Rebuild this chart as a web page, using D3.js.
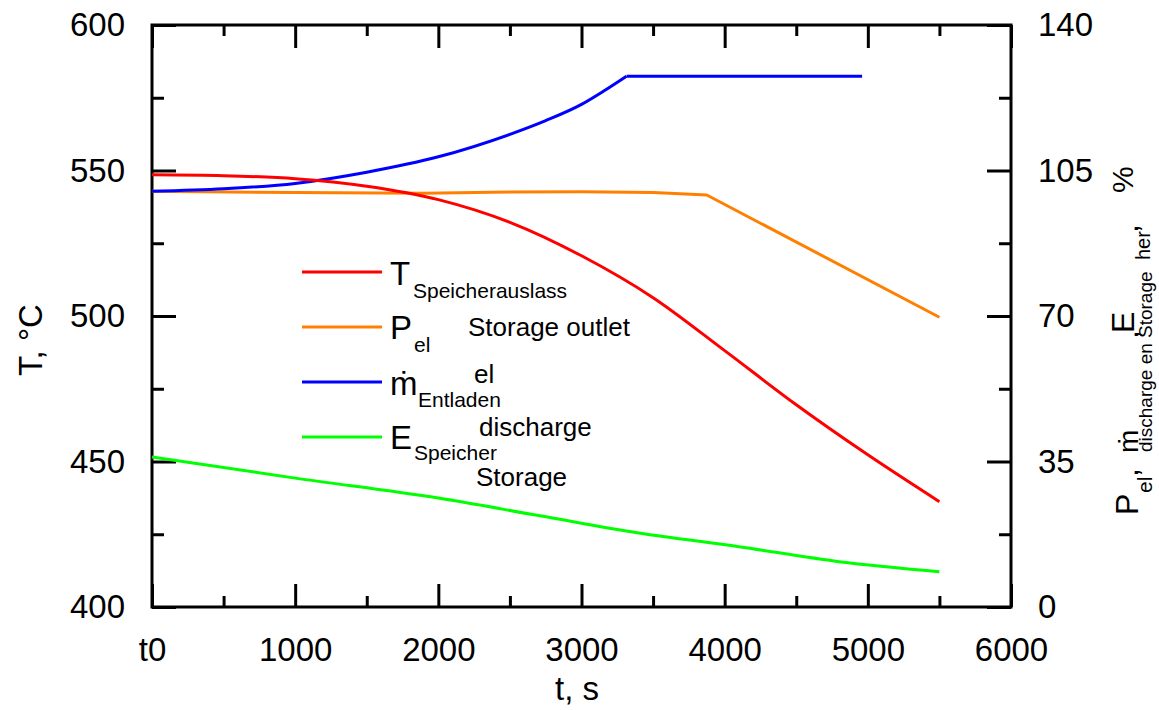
<!DOCTYPE html>
<html>
<head>
<meta charset="utf-8">
<script src="https://cdn.jsdelivr.net/npm/d3@7"></script>
<style>
  body { margin: 0; background: #fff; }
  text { font-family: "Liberation Sans", Arial, sans-serif; fill: #000; }
</style>
</head>
<body>
<div class="chart"></div>
<script>
// data
const timeT = [0, 500, 1000, 1500, 2000, 2500, 3000, 3500, 4000, 4500, 5000, 5500];
const tempOutlet = [548.5, 548.2, 547.2, 544.6, 540.0, 532.2, 520.7, 506.3, 488.1, 469.5, 452.3, 436.2];

const timePel = [0, 1000, 1900, 2500, 3000, 3500, 3875, 5500];
const powerEl = [100, 99.7, 99.5, 99.8, 99.9, 99.7, 99.1, 69.7];

const timeFlow = [0, 500, 1000, 1500, 2000, 2500, 2750, 3000, 3150, 3315, 4960];
const flowDischarge = [100, 100.6, 101.9, 104.6, 108.3, 113.7, 117.0, 120.9, 124.0, 127.7, 127.7];

const timeE = [0, 1000, 2000, 2700, 3400, 4100, 4800, 5500];
const energyStorage = [36.1, 31.0, 26.2, 22.0, 17.8, 14.5, 10.9, 8.5];

const xTicks = [0, 1000, 2000, 3000, 4000, 5000, 6000];
const xTickLabels = ["t0", "1000", "2000", "3000", "4000", "5000", "6000"];
const leftTicks = [400, 450, 500, 550, 600];
const rightTicks = [0, 35, 70, 105, 140];

// layout
const width = 1159;
const height = 710;
const plotLeft = 152, plotRight = 1011, plotTop = 25, plotBottom = 607;

const svg = d3.select(".chart")
  .append("svg")
  .attr("width", width)
  .attr("height", height);

const x = d3.scaleLinear().domain([0, 6000]).range([plotLeft, plotRight]);
const yL = d3.scaleLinear().domain([400, 600]).range([plotBottom, plotTop]);
const yR = d3.scaleLinear().domain([0, 140]).range([plotBottom, plotTop]);

const styleAxis = function(g) {
  g.select(".domain").remove();
  g.selectAll("line").attr("stroke", "#000").attr("stroke-width", 3);
  g.selectAll("text")
    .attr("font-size", 33)
    .attr("font-family", "Liberation Sans, Arial, sans-serif")
    .attr("fill", "#000");
};

// minor ticks
svg.append("g").attr("transform", `translate(0,${plotBottom})`)
  .call(d3.axisBottom(x).tickValues(d3.range(500, 6000, 1000)).tickSize(-11).tickFormat(""))
  .call(styleAxis);
svg.append("g").attr("transform", `translate(0,${plotTop})`)
  .call(d3.axisTop(x).tickValues(d3.range(500, 6000, 1000)).tickSize(-11).tickFormat(""))
  .call(styleAxis);
svg.append("g").attr("transform", `translate(${plotLeft},0)`)
  .call(d3.axisLeft(yL).tickValues(d3.range(425, 600, 50)).tickSize(-12).tickFormat(""))
  .call(styleAxis);
svg.append("g").attr("transform", `translate(${plotRight},0)`)
  .call(d3.axisRight(yR).tickValues(d3.range(17.5, 140, 35)).tickSize(-12).tickFormat(""))
  .call(styleAxis);

// major ticks + labels
svg.append("g").attr("transform", `translate(0,${plotBottom})`)
  .call(d3.axisBottom(x).tickValues(xTicks).tickSize(-23).tickPadding(31)
    .tickFormat((d, i) => xTickLabels[i]))
  .call(styleAxis);
svg.append("g").attr("transform", `translate(0,${plotTop})`)
  .call(d3.axisTop(x).tickValues(xTicks).tickSize(-23).tickFormat(""))
  .call(styleAxis);
svg.append("g").attr("transform", `translate(${plotLeft},0)`)
  .call(d3.axisLeft(yL).tickValues(leftTicks).tickSize(-24).tickPadding(27))
  .call(styleAxis);
svg.append("g").attr("transform", `translate(${plotRight},0)`)
  .call(d3.axisRight(yR).tickValues(rightTicks).tickSize(-24).tickPadding(27))
  .call(styleAxis);

// frame
svg.append("rect")
  .attr("x", plotLeft).attr("y", plotTop)
  .attr("width", plotRight - plotLeft).attr("height", plotBottom - plotTop)
  .attr("fill", "none").attr("stroke", "#000").attr("stroke-width", 3);

// curves
const drawLine = function(ts, vs, yScale, color, curve) {
  const line = d3.line()
    .x(function(d, i) { return x(ts[i]); })
    .y(function(d) { return yScale(d); })
    .curve(curve);
  svg.append("path")
    .datum(vs)
    .attr("d", line)
    .attr("fill", "none")
    .attr("stroke", color)
    .attr("stroke-width", 3)
    .attr("stroke-linejoin", "round");
};

// blue: smooth rise, then a sharp kink into the flat part
const kink = timeFlow.indexOf(3315);

drawLine(timeE, energyStorage, yR, "#00ff00", d3.curveMonotoneX);
drawLine(timePel, powerEl, yR, "#ff8000", d3.curveLinear);
drawLine(timeFlow.slice(0, kink + 1), flowDischarge.slice(0, kink + 1), yR, "#0000ff", d3.curveMonotoneX);
drawLine(timeFlow.slice(kink), flowDischarge.slice(kink), yR, "#0000ff", d3.curveLinear);
drawLine(timeT, tempOutlet, yL, "#ff0000", d3.curveMonotoneX);

// legend
const legendColors = ["#ff0000", "#ff8000", "#0000ff", "#00ff00"];
const legendRows = [272, 327, 382, 437];
svg.selectAll("line.legend")
  .data(legendColors)
  .enter()
  .append("line")
  .attr("class", "legend")
  .attr("x1", 302).attr("x2", 382)
  .attr("y1", function(d, i) { return legendRows[i]; })
  .attr("y2", function(d, i) { return legendRows[i]; })
  .attr("stroke", function(d) { return d; })
  .attr("stroke-width", 3);

const addText = function(g, str, tx, ty, size) {
  g.append("text").attr("x", tx).attr("y", ty).attr("font-size", size).text(str);
};

addText(svg, "T", 390, 285, 33);
addText(svg, "Speicherauslass", 413, 298, 21);
addText(svg, "P", 390, 339, 33);
addText(svg, "el", 414, 352, 21);
addText(svg, "Storage outlet", 468, 336, 26);
addText(svg, "ṁ", 390, 395, 33);
addText(svg, "Entladen", 418, 407, 21);
addText(svg, "el", 474, 383, 26);
addText(svg, "E", 390, 449, 33);
addText(svg, "Speicher", 414, 460, 21);
addText(svg, "discharge", 479, 436, 26);
addText(svg, "Storage", 476, 486, 26);

// axis titles
svg.append("text")
  .attr("transform", "translate(42,340) rotate(-90)")
  .attr("text-anchor", "middle")
  .attr("font-size", 33)
  .text("T, °C");

addText(svg, "t, s", 555, 700, 33);

const rTitle = svg.append("g").attr("transform", "translate(1138,515) rotate(-90)");
addText(rTitle, "P", 0, 0, 32);
addText(rTitle, "el", 22, 14, 21);
addText(rTitle, ",", 38, 0, 32);
addText(rTitle, "discharge en", 63, 14, 19);
addText(rTitle, "ṁ", 62, 0, 28);
addText(rTitle, ",", 176, 0, 32);
addText(rTitle, "Storage", 177, 14, 19);
addText(rTitle, "E", 182, -4, 32);
addText(rTitle, "her", 255, 12, 20);
addText(rTitle, ",", 282, 0, 32);
addText(rTitle, "%", 322, -5, 30);
</script>
</body>
</html>
